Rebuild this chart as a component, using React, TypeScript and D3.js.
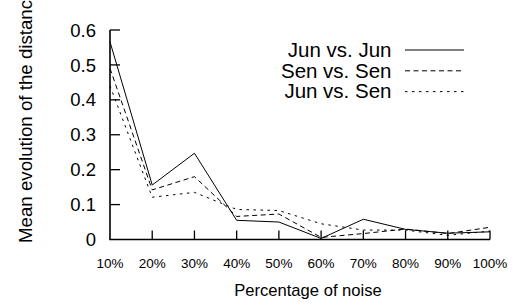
import React from "react";
import * as d3 from "d3";

const categories = ["10%", "20%", "30%", "40%", "50%", "60%", "70%", "80%", "90%", "100%"];
const junVsJun = [0.566, 0.156, 0.247, 0.055, 0.05, 0.003, 0.058, 0.029, 0.018, 0.022];
const senVsSen = [0.49, 0.142, 0.18, 0.066, 0.073, 0.006, 0.017, 0.03, 0.017, 0.035];
const junVsSen = [0.44, 0.121, 0.135, 0.086, 0.083, 0.045, 0.027, 0.027, 0.012, 0.024];
const yTicks = [0, 0.1, 0.2, 0.3, 0.4, 0.5, 0.6];
const seriesNames = ["Jun vs. Jun", "Sen vs. Sen", "Jun vs. Sen"];

const W = 517;
const H = 307;
const FONT = "'Liberation Sans', Arial, Helvetica, sans-serif";

export default function App() {
  const x = d3.scalePoint<string>().domain(categories).range([110, 490]);
  const y = d3.scaleLinear().domain([0, 0.6]).range([239.5, 30]);
  const series = [
    { name: seriesNames[0], values: junVsJun, dash: undefined as string | undefined },
    { name: seriesNames[1], values: senVsSen, dash: "5,3.5" },
    { name: seriesNames[2], values: junVsSen, dash: "2.5,4.5" },
  ];
  const line = d3
    .line<number>()
    .x((_, i) => x(categories[i]) as number)
    .y((d) => y(d));

  return (
    <svg
      width={W}
      height={H}
      style={{ position: "absolute", left: 0, top: 0, background: "#fff" }}
      fontFamily={FONT}
    >
      <rect width={W} height={H} fill="#fff" />
      {series.map((s) => (
        <path
          key={s.name}
          d={line(s.values) || ""}
          fill="none"
          stroke="#000"
          strokeWidth={1}
          strokeDasharray={s.dash}
        />
      ))}
      <line x1={110} x2={110} y1={y(0.6)} y2={y(0)} stroke="#000" strokeWidth={1.6} />
      {yTicks.map((t) => (
        <g key={t}>
          {t > 0 && <line x1={110} x2={120} y1={y(t)} y2={y(t)} stroke="#000" strokeWidth={1.3} />}
          <text x={96} y={y(t)} dy="0.36em" textAnchor="end" fontSize={18.5} fill="#000">
            {t === 0 ? "0" : d3.format(".1f")(t)}
          </text>
        </g>
      ))}
      <line x1={109.2} x2={490} y1={y(0)} y2={y(0)} stroke="#000" strokeWidth={1.6} />
      {categories.map((c, i) => (
        <g key={c}>
          {i > 0 && (
            <line
              x1={x(c)}
              x2={x(c)}
              y1={y(0)}
              y2={y(0) - 9}
              stroke="#000"
              strokeWidth={1.3}
            />
          )}
          <text x={x(c)} y={268} textAnchor="middle" fontSize={13.5} fill="#000">
            {c}
          </text>
        </g>
      ))}
      <text x={308} y={296} textAnchor="middle" fontSize={16.6} fill="#000">
        Percentage of noise
      </text>
      <text
        transform="translate(32,243) rotate(-90)"
        textAnchor="start"
        fontSize={18.7}
        fill="#000"
      >
        Mean evolution of the distanc
      </text>
      {series.map((s, i) => (
        <g key={s.name}>
          <text x={391.5} y={56.7 + i * 20.8} textAnchor="end" fontSize={20.5} fill="#000">
            {s.name}
          </text>
          <line
            x1={405}
            x2={464}
            y1={50 + i * 20.8}
            y2={50 + i * 20.8}
            stroke="#000"
            strokeWidth={1}
            strokeDasharray={s.dash}
          />
        </g>
      ))}
    </svg>
  );
}
